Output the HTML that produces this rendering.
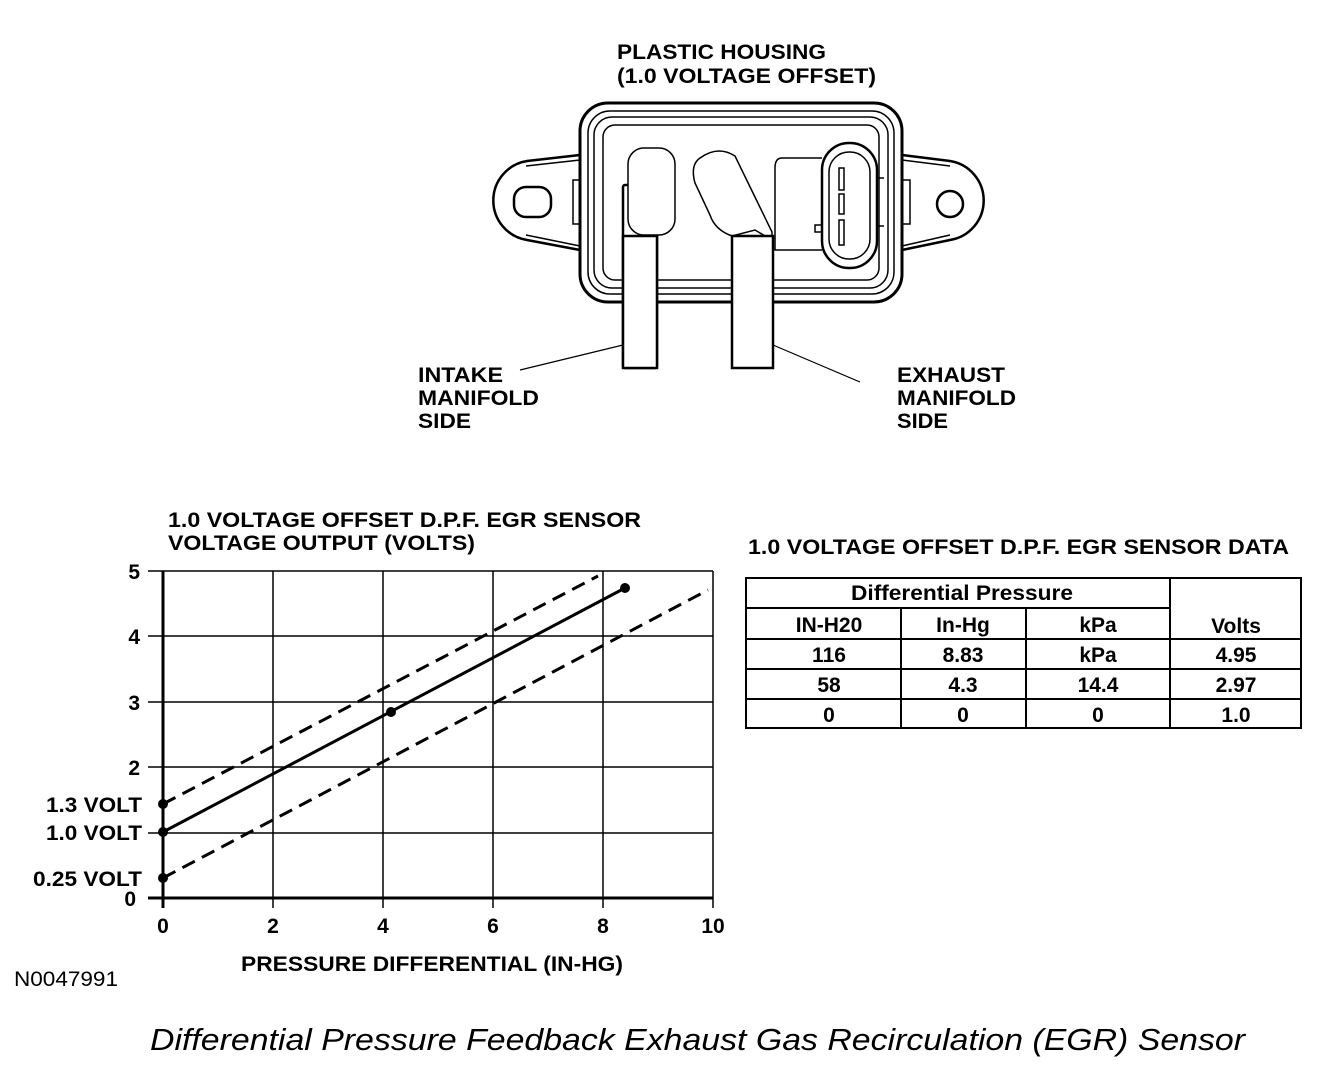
<!DOCTYPE html>
<html><head><style>
html,body{margin:0;padding:0;background:#fff}
svg{display:block}
text{font-family:"Liberation Sans",Arial,sans-serif;font-weight:bold;fill:#000}
</style></head><body>
<svg width="1344" height="1066" viewBox="0 0 1344 1066" xmlns="http://www.w3.org/2000/svg">
<g stroke="#000" fill="none" stroke-width="2.5">
<path d="M580 155 L527 161 A40 40 0 0 0 527 240 L580 250" fill="#fff"/>
<path d="M526 166 L580 160 M526 235 L580 246" stroke-width="1.5"/>
<rect x="514" y="187" width="37" height="30" rx="12"/>
<rect x="573" y="180" width="8" height="44" stroke-width="1.5"/>
<path d="M902 155 L950 161 A40 40 0 0 1 950 240 L902 250" fill="#fff"/>
<path d="M950 166 L902 160 M950 235 L902 246" stroke-width="1.5"/>
<circle cx="950" cy="204" r="13"/>
<rect x="902" y="180" width="8" height="44" stroke-width="1.5"/>
<rect x="580" y="103" width="322" height="199" rx="28" fill="#fff" stroke-width="3"/>
<rect x="588" y="111" width="306" height="183" rx="22" stroke-width="1.5"/>
<rect x="594" y="117" width="294" height="171" rx="18" stroke-width="1.5"/>
<rect x="603" y="125" width="276" height="155" rx="12" stroke-width="1.5"/>
<path d="M822 158 L782 158 Q775 158 775 168 L775 250 L822 250" fill="#fff" stroke-width="1.5"/>
<rect x="822" y="143" width="55" height="125" rx="27" fill="#fff"/>
<rect x="829" y="152" width="41" height="107" rx="20" stroke-width="1.5"/>
<rect x="839" y="168" width="5" height="22" stroke-width="1.5"/>
<rect x="839" y="194" width="5" height="20" stroke-width="1.5"/>
<rect x="839" y="220" width="5" height="25" stroke-width="1.5"/>
<path d="M877 178 L884 178 M877 226 L884 226 M822 225 L815 225 L815 232 L822 232" stroke-width="1.5"/>
<rect x="623" y="185" width="34" height="183" rx="2" fill="#fff"/>
<rect x="628" y="148" width="47" height="87" rx="16" fill="#fff" stroke-width="1.5"/>
<rect x="623" y="236" width="34" height="132" fill="#fff"/>
<path d="M700 158 Q718 145 735 156 L772 232 L772 240 L755 230 L732 236 Q715 230 710 215 L695 183 Q690 165 700 158 Z" fill="#fff" stroke-width="1.5"/>
<rect x="732" y="236" width="41" height="132" fill="#fff"/>
<path d="M623 345 L520 370 M773 345 L860 382" stroke-width="1.2"/>
</g>
<g font-size="21" lengthAdjust="spacingAndGlyphs">
<text x="617" y="59" textLength="209" lengthAdjust="spacingAndGlyphs">PLASTIC HOUSING</text>
<text x="617" y="83" textLength="259" lengthAdjust="spacingAndGlyphs">(1.0 VOLTAGE OFFSET)</text>
<text x="418" y="382" textLength="85" lengthAdjust="spacingAndGlyphs">INTAKE</text>
<text x="418" y="405" textLength="121" lengthAdjust="spacingAndGlyphs">MANIFOLD</text>
<text x="418" y="428" textLength="53" lengthAdjust="spacingAndGlyphs">SIDE</text>
<text x="897" y="382" textLength="108" lengthAdjust="spacingAndGlyphs">EXHAUST</text>
<text x="897" y="405" textLength="119" lengthAdjust="spacingAndGlyphs">MANIFOLD</text>
<text x="897" y="428" textLength="51" lengthAdjust="spacingAndGlyphs">SIDE</text>
<text x="168" y="527" textLength="473" lengthAdjust="spacingAndGlyphs">1.0 VOLTAGE OFFSET D.P.F. EGR SENSOR</text>
<text x="168" y="550" textLength="307" lengthAdjust="spacingAndGlyphs">VOLTAGE OUTPUT (VOLTS)</text>
<text x="748" y="554" textLength="541" lengthAdjust="spacingAndGlyphs">1.0 VOLTAGE OFFSET D.P.F. EGR SENSOR DATA</text>
<text x="241" y="971" textLength="382" lengthAdjust="spacingAndGlyphs">PRESSURE DIFFERENTIAL (IN-HG)</text>
<text x="14" y="986" textLength="104" lengthAdjust="spacingAndGlyphs" style="font-weight:normal">N0047991</text>
</g>
<g stroke="#000" stroke-width="1.5">
<line x1="148" y1="571" x2="713" y2="571"/>
<line x1="148" y1="636" x2="713" y2="636"/>
<line x1="148" y1="702" x2="713" y2="702"/>
<line x1="148" y1="767" x2="713" y2="767"/>
<line x1="148" y1="833" x2="713" y2="833"/>
<line x1="273" y1="571" x2="273" y2="908"/>
<line x1="383" y1="571" x2="383" y2="908"/>
<line x1="493" y1="571" x2="493" y2="908"/>
<line x1="603" y1="571" x2="603" y2="908"/>
<line x1="713" y1="571" x2="713" y2="908"/>
<line x1="148" y1="898" x2="713" y2="898" stroke-width="3"/>
<line x1="163" y1="571" x2="163" y2="908" stroke-width="3"/>
<line x1="163" y1="832" x2="625" y2="588" stroke-width="3"/>
<line x1="163" y1="804" x2="598" y2="576" stroke-width="3" stroke-dasharray="14 8"/>
<line x1="163" y1="878" x2="708" y2="590" stroke-width="3" stroke-dasharray="14 8"/>
</g>
<g fill="#000">
<circle cx="163" cy="804" r="5"/><circle cx="163" cy="832" r="5"/><circle cx="163" cy="878" r="5"/>
<circle cx="391" cy="712" r="5"/><circle cx="625" cy="588" r="5"/>
</g>
<g font-size="21" text-anchor="end">
<text x="140" y="579">5</text><text x="140" y="644">4</text><text x="140" y="710">3</text>
<text x="140" y="775">2</text>
<text x="142" y="812" textLength="96" lengthAdjust="spacingAndGlyphs">1.3 VOLT</text>
<text x="142" y="840" textLength="96" lengthAdjust="spacingAndGlyphs">1.0 VOLT</text>
<text x="142" y="886" textLength="109" lengthAdjust="spacingAndGlyphs">0.25 VOLT</text>
<text x="136" y="906">0</text>
</g>
<g font-size="21" text-anchor="middle">
<text x="163" y="933">0</text><text x="273" y="933">2</text><text x="383" y="933">4</text>
<text x="493" y="933">6</text><text x="603" y="933">8</text><text x="713" y="933">10</text>
</g>
<g stroke="#000" stroke-width="2" fill="none">
<rect x="746" y="578" width="555" height="150"/>
<line x1="746" y1="608" x2="1170" y2="608"/>
<line x1="746" y1="639" x2="1301" y2="639"/>
<line x1="746" y1="669" x2="1301" y2="669"/>
<line x1="746" y1="699" x2="1301" y2="699"/>
<line x1="901" y1="608" x2="901" y2="728"/>
<line x1="1026" y1="608" x2="1026" y2="728"/>
<line x1="1170" y1="578" x2="1170" y2="728"/>
</g>
<g font-size="21" text-anchor="middle">
<text x="962" y="600" textLength="222" lengthAdjust="spacingAndGlyphs">Differential Pressure</text>
<text x="1236" y="633">Volts</text>
<text x="829" y="632">IN-H20</text><text x="963" y="632">In-Hg</text><text x="1098" y="632">kPa</text>
<text x="829" y="662">116</text><text x="963" y="662">8.83</text><text x="1098" y="662">kPa</text><text x="1236" y="662">4.95</text>
<text x="829" y="692">58</text><text x="963" y="692">4.3</text><text x="1098" y="692">14.4</text><text x="1236" y="692">2.97</text>
<text x="829" y="722">0</text><text x="963" y="722">0</text><text x="1098" y="722">0</text><text x="1236" y="722">1.0</text>
</g>
<text x="150" y="1050" font-size="31" style="font-weight:normal;font-style:italic" textLength="1095" lengthAdjust="spacingAndGlyphs">Differential Pressure Feedback Exhaust Gas Recirculation (EGR) Sensor</text>
</svg>
</body></html>
